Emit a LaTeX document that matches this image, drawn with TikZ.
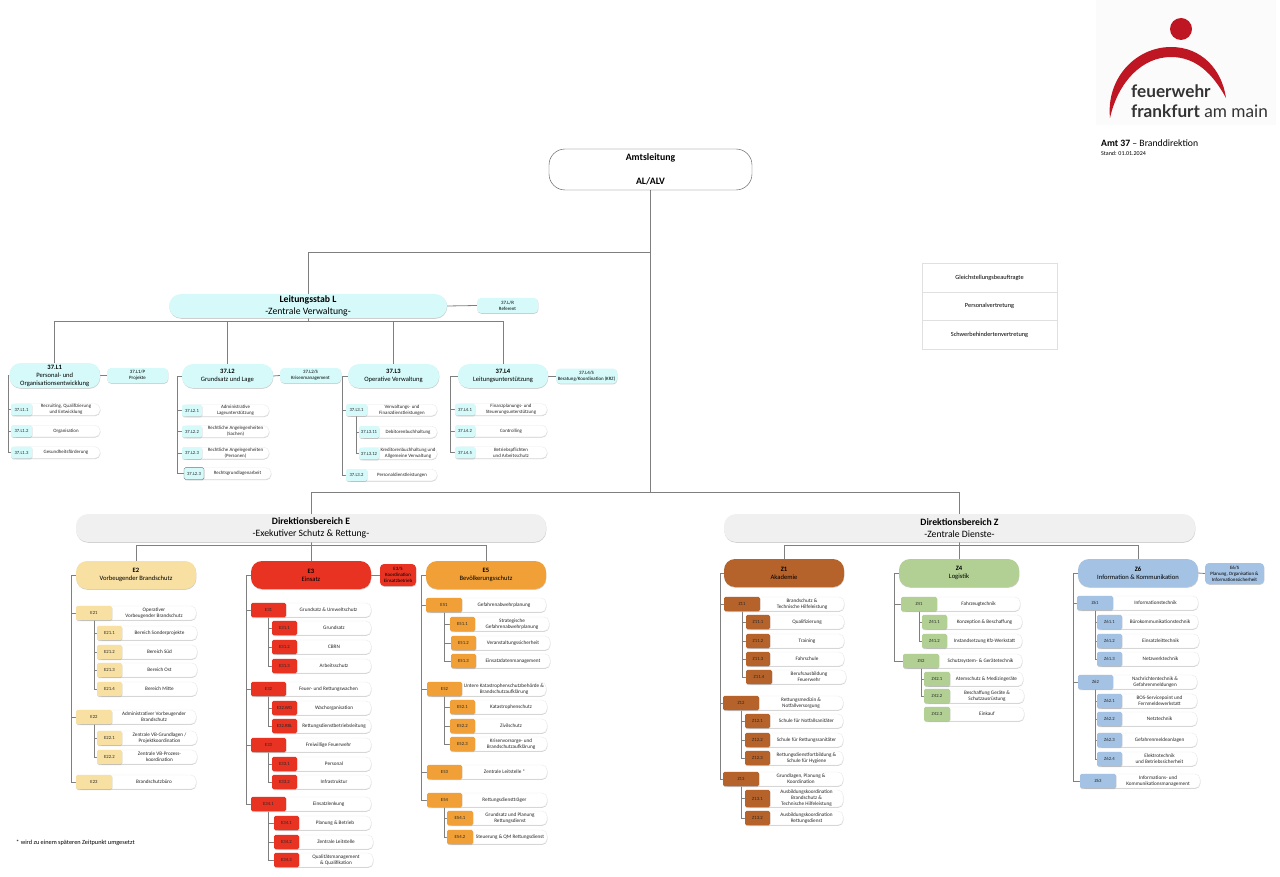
\documentclass[tikz,border=0pt]{standalone}
\usepackage{fontspec}
\setmainfont{Carlito}
\newfontfamily\logofont{Lato}
\usetikzlibrary{shadows,backgrounds}

\definecolor{lineGrey}{HTML}{7F7F7F}
\definecolor{stabCyan}{HTML}{D6FAFA}
\definecolor{dirGrey}{HTML}{F0F0F0}
\definecolor{eYellow}{HTML}{F8E0A2}
\definecolor{eRed}{HTML}{E83323}
\definecolor{eOrange}{HTML}{F0A037}
\definecolor{zBrown}{HTML}{B5622B}
\definecolor{zGreen}{HTML}{B2D094}
\definecolor{zBlue}{HTML}{A4C2E3}
\definecolor{logoRed}{HTML}{BE1622}
\definecolor{logoBack}{HTML}{FBFBFB}

\newcommand{\rowfont}{\fontsize{4.9}{6}\selectfont}

\tikzset{
  softshadow/.style={drop shadow={shadow xshift=0.3pt,shadow yshift=-0.8pt,fill=black!35,opacity=0.55}},
  orgline/.style={draw=lineGrey,line width=0.8pt},
  rowbody/.style={draw=black!8,fill=white,rounded corners=5pt,inner sep=0pt,softshadow},
  rowcode/.style={rounded corners=1.6pt,inner sep=0pt,align=center,text=black!85,font=\fontsize{4.7}{6}\selectfont,softshadow},
  rowtext/.style={inner sep=0pt,align=center,text=black!85,font=\rowfont},
  topbox/.style={rounded corners=12pt,inner sep=0pt,align=center,font=\fontsize{9.7}{12}\selectfont,softshadow},
  headbox/.style={rounded corners=11pt,inner sep=0pt,align=center,font=\fontsize{6.6}{8}\selectfont,softshadow},
  sidebox/.style={rounded corners=4pt,inner sep=0pt,align=center,font=\fontsize{4.9}{6}\selectfont,softshadow},
  repbox/.style={draw=black!12,fill=white,inner sep=0pt,align=center,minimum width=135pt,font=\fontsize{6.3}{8}\selectfont}
}

\newcommand{\orgrow}[9][14]{
  \node[rowbody,minimum width={(#6-#4)*1pt},minimum height={#1*1pt}] (#3-b) at ({(#4+#6)/2},#7) {};
  \node[rowcode,fill=#2,minimum width={(#5-#4)*1pt},minimum height={(#1+0.4)*1pt}] (#3) at ({(#4+#5)/2},#7) {#8};
  \node[rowtext] (#3-t) at ({(#5+#6)/2},#7) {#9};
}
\newcommand{\orgbox}[8]{
  \node[#1,fill=#2,minimum width={(#5-#4)*1pt},minimum height={(#7-#6)*1pt}] (#3) at ({(#4+#5)/2},{(#6+#7)/2}) {#8};
}
\newcommand{\orgtrunk}[3]{
  \foreach \kid in {#3} \draw[orgline] (#1.west) -- ++(-#2,0) |- (\kid.west);
}
\newcommand{\orgsub}[2]{
  \foreach \kid in {#2} \draw[orgline] (#1.south) |- (\kid.west);
}
\newcommand{\orgbus}[2]{
  \draw[orgline] (#1.south) -- ++(0,3.5) coordinate (#1-bus);
  \foreach \kid in {#2} \draw[orgline] (#1-bus) -| (\kid.north);
}

\begin{document}
\begin{tikzpicture}[x=1pt,y=-1pt]
\useasboundingbox (0,0) rectangle (1280,877);

\fill[logoBack] (1096,0) rectangle (1276,125);
\fill[logoRed] (1181,29) circle (11);
\fill[logoRed] (1110,118) .. controls (1106,78) and (1136,47) .. (1171,47) .. controls (1202,47) and (1222,70) .. (1226,98) .. controls (1213,74) and (1196,57) .. (1171,57) .. controls (1142,57) and (1118,82) .. (1110,118);
\node[anchor=base west,inner sep=0pt,font=\logofont\fontsize{17.2}{18}\selectfont\bfseries,text=black!80] (logoa) at (1131,98) {feuerwehr};
\node[anchor=base west,inner sep=0pt,font=\logofont\fontsize{17.2}{18}\selectfont,text=black!80] (logob) at (1131,118) {\textbf{frankfurt} am main};
\node[anchor=base west,inner sep=0pt,font=\fontsize{9.7}{11}\selectfont] (amt) at (1101,147) {\textbf{Amt 37} -- Branddirektion};
\node[anchor=base west,inner sep=0pt,font=\fontsize{6}{8}\selectfont] (stand) at (1101,155.5) {Stand: 01.01.2024};
\node[anchor=west,inner sep=0pt,font=\fontsize{6.3}{7}\selectfont] (note) at (16,843) {* wird zu einem späteren Zeitpunkt umgesetzt};

\node[repbox,minimum height=28.5pt] (gleich) at (989.5,277.5) {Gleichstellungsbeauftragte};
\node[repbox,minimum height=28.5pt] (perso) at (989.5,306) {Personalvertretung};
\node[repbox,minimum height=28.5pt] (schwer) at (989.5,334.5) {Schwerbehindertenvertretung};

\node[draw=black!70,fill=white,rounded corners=16pt,inner sep=0pt,align=center,font=\fontsize{9.8}{12}\selectfont\bfseries,minimum width=203pt,minimum height=41pt] (AL) at (650.5,169.5) {Amtsleitung\\[12pt]AL/ALV};

\orgbox{topbox}{stabCyan}{Lstab}{169}{447}{294}{318}{\textbf{Leitungsstab L}\\-Zentrale Verwaltung-}
\orgbox{sidebox}{stabCyan}{LR}{477}{538}{298}{313}{37.L/R\\Referent}
\orgbox{headbox}{stabCyan}{L1}{9.5}{100}{363}{388}{\textbf{37.L1}\\Personal- und\\Organisationsentwicklung}
\orgbox{sidebox}{stabCyan}{L1P}{107}{168}{368}{383}{37.L1/P\\Projekte}
\orgbox{headbox}{stabCyan}{L2}{182}{273}{364}{388}{\textbf{37.L2}\\Grundsatz und Lage}
\orgbox{sidebox}{stabCyan}{L2S}{280}{341}{368}{383}{37.L2/S\\Krisenmanagement}
\orgbox{headbox}{stabCyan}{L3}{348}{439}{364}{388}{\textbf{37.L3}\\Operative Verwaltung}
\orgbox{headbox}{stabCyan}{L4}{458}{548}{364}{388}{\textbf{37.L4}\\Leitungsunterstützung}
\orgbox{sidebox}{stabCyan}{L4S}{556}{617}{368.5}{383.5}{37.L4/S\\Beratung/Koordination (KRZ)}

\orgrow[11.5]{stabCyan}{L1-1}{11}{32}{100}{409.5}{37.L1.1}{Recruiting, Qualifizierung\\und Entwicklung}
\orgrow[11.5]{stabCyan}{L1-2}{11}{32}{100}{431}{37.L1.2}{Organisation}
\orgrow[11.5]{stabCyan}{L1-3}{11}{32}{100}{452.5}{37.L1.3}{Gesundheitsförderung}

\orgrow[11.5]{stabCyan}{L2-1}{182}{202}{269}{410.5}{37.L2.1}{Administrative\\Lageunterstützung}
\orgrow[11.5]{stabCyan}{L2-2}{182}{202}{269}{431.5}{37.L2.2}{Rechtliche Angelegenheiten\\(Sachen)}
\orgrow[11.5]{stabCyan}{L2-3}{182}{202}{269}{453}{37.L2.3}{Rechtliche Angelegenheiten\\(Personen)}
\orgrow[11.5]{stabCyan,draw=black!55}{L2-4}{184}{204}{271}{473.5}{37.L2.3}{Rechtsgrundlagenarbeit}

\orgrow[11.5]{stabCyan}{L3-1}{346}{367}{437}{410}{37.L3.1}{Verwaltungs- und\\Finanzdienstleistungen}
\orgrow[11.5]{stabCyan}{L3-11}{359}{379}{437}{432}{37.L3.11}{Debitorenbuchhaltung}
\orgrow[11.5]{stabCyan}{L3-12}{359}{379}{437}{453.5}{37.L3.12}{Kreditorenbuchhaltung und\\Allgemeine Verwaltung}
\orgrow[11.5]{stabCyan}{L3-2}{346}{367}{437}{475}{37.L3.2}{Personaldienstleistungen}

\orgrow[11.5]{stabCyan}{L4-1}{455}{475}{547}{409.5}{37.L4.1}{Finanzplanungs- und\\Steuerungsunterstützung}
\orgrow[11.5]{stabCyan}{L4-2}{455}{475}{547}{431}{37.L4.2}{Controlling}
\orgrow[11.5]{stabCyan}{L4-3}{455}{475}{547}{452.5}{37.L4.5}{Betriebspflichten\\und Arbeitsschutz}

\renewcommand{\rowfont}{\fontsize{5.2}{6}\selectfont}

\orgbox{topbox}{dirGrey}{DirE}{76}{546}{514}{542}{\textbf{Direktionsbereich E}\\-Exekutiver Schutz \& Rettung-}
\orgbox{topbox}{dirGrey}{DirZ}{724}{1195}{514}{542}{\textbf{Direktionsbereich Z}\\-Zentrale Dienste-}

\orgbox{headbox}{eYellow}{E2}{76}{196}{561}{589}{\textbf{E2}\\Vorbeugender Brandschutz}
\orgbox{headbox}{eRed}{E3}{251}{371}{561}{589}{\textbf{E3}\\Einsatz}
\orgbox{sidebox}{eRed}{E3S}{380}{416}{564}{586}{E3/S\\Koordination\\Einsatzbetrieb}
\orgbox{headbox}{eOrange}{E5}{426}{546}{561}{589}{\textbf{E5}\\Bevölkerungsschutz}

\orgrow{eYellow}{E21}{76}{112}{196}{613}{E21}{Operativer\\Vorbeugender Brandschutz}
\orgrow{eYellow}{E21-1}{97}{122}{197}{633}{E21.1}{Bereich Sonderprojekte}
\orgrow{eYellow}{E21-2}{97}{122}{197}{652}{E21.2}{Bereich Süd}
\orgrow{eYellow}{E21-3}{97}{122}{197}{670}{E21.3}{Bereich Ost}
\orgrow{eYellow}{E21-4}{97}{122}{197}{689}{E21.4}{Bereich Mitte}
\orgrow{eYellow}{E22}{76}{112}{196}{717}{E22}{Administrativer Vorbeugender\\Brandschutz}
\orgrow{eYellow}{E22-1}{97}{122}{197}{738}{E22.1}{Zentrale VB-Grundlagen /\\Projektkoordination}
\orgrow{eYellow}{E22-2}{97}{122}{197}{757}{E22.2}{Zentrale VB-Prozess-\\koordination}
\orgrow{eYellow}{E23}{76}{112}{196}{782}{E23}{Brandschutzbüro}

\orgrow{eRed}{E31}{251}{286}{371}{610}{E31}{Grundsatz \& Umweltschutz}
\orgrow{eRed}{E31-1}{272}{297}{371}{628}{E31.1}{Grundsatz}
\orgrow{eRed}{E31-2}{272}{297}{371}{647}{E31.2}{CBRN}
\orgrow{eRed}{E31-3}{272}{297}{371}{666}{E31.3}{Arbeitsschutz}
\orgrow{eRed}{E32}{251}{286}{371}{689}{E32}{Feuer- und Rettungswachen}
\orgrow{eRed}{E32-WO}{272}{297}{371}{708}{E32.WO}{Wachorganisation}
\orgrow{eRed}{E32-RBL}{272}{297}{371}{726}{E32.RBL}{Rettungsdienstbetriebsleitung}
\orgrow{eRed}{E33}{251}{286}{371}{745}{E33}{Freiwillige Feuerwehr}
\orgrow{eRed}{E33-1}{272}{297}{371}{764}{E33.1}{Personal}
\orgrow{eRed}{E33-2}{272}{297}{371}{782}{E33.2}{Infrastruktur}
\orgrow{eRed}{E34}{251}{286}{371}{804}{E34.1}{Einsatzlenkung}
\orgrow{eRed}{E34-1}{274}{299}{371}{823}{E34.1}{Planung \& Betrieb}
\orgrow{eRed}{E34-2}{274}{299}{373}{842}{E34.2}{Zentrale Leitstelle}
\orgrow{eRed}{E34-3}{274}{299}{373}{860}{E34.3}{Qualitätsmanagement\\\& Qualifikation}

\orgrow{eOrange}{E51}{426}{462}{546}{605}{E51}{Gefahrenabwehrplanung}
\orgrow{eOrange}{E51-1}{450}{475}{549}{624}{E51.1}{Strategische\\Gefahrenabwehrplanung}
\orgrow{eOrange}{E51-2}{451}{476}{550}{643}{E51.2}{Veranstaltungssicherheit}
\orgrow{eOrange}{E51-3}{451}{476}{550}{661}{E51.3}{Einsatzdatenmanagement}
\orgrow{eOrange}{E52}{427}{462}{546}{689}{E52}{Untere Katastrophenschutzbehörde \&\\Brandschutzaufklärung}
\orgrow{eOrange}{E52-1}{450}{475}{547}{707}{E52.1}{Katastrophenschutz}
\orgrow{eOrange}{E52-2}{450}{475}{547}{726}{E52.2}{Zivilschutz}
\orgrow{eOrange}{E52-3}{450}{475}{547}{744}{E52.3}{Krisenvorsorge- und\\Brandschutzaufklärung}
\orgrow{eOrange}{E53}{427}{462}{547}{772}{E53}{Zentrale Leitstelle *}
\orgrow{eOrange}{E54}{427}{462}{547}{800}{E54}{Rettungsdienstträger}
\orgrow{eOrange}{E54-1}{447}{473}{547}{818}{E54.1}{Grundsatz und Planung\\Rettungsdienst}
\orgrow{eOrange}{E54-2}{447}{473}{547}{837}{E54.2}{Steuerung \& QM Rettungsdienst}

\orgbox{headbox}{zBrown}{Z1}{724}{844}{559}{587}{\textbf{Z1}\\Akademie}
\orgbox{headbox}{zGreen}{Z4}{899}{1019}{559}{587}{\textbf{Z4}\\Logistik}
\orgbox{headbox}{zBlue}{Z6}{1078}{1198}{559}{587}{\textbf{Z6}\\Information \& Kommunikation}
\orgbox{sidebox}{zBlue}{Z6S}{1205}{1264}{563}{584}{E6/S\\Planung, Organisation \&\\Informationssicherheit}

\orgrow{zBrown}{Z11}{724}{760}{844}{604}{Z11}{Brandschutz \&\\Technische Hilfeleistung}
\orgrow{zBrown}{Z11-1}{746}{770}{844}{622}{Z11.1}{Qualifizierung}
\orgrow{zBrown}{Z11-2}{746}{770}{844}{641}{Z11.2}{Training}
\orgrow{zBrown}{Z11-3}{746}{770}{844}{659}{Z11.3}{Fahrschule}
\orgrow{zBrown}{Z11-4}{746}{772}{846}{677}{Z11.4}{Berufsausbildung\\Feuerwehr}
\orgrow{zBrown}{Z12}{723}{759}{843}{703}{Z12}{Rettungsmedizin \&\\Notfallversorgung}
\orgrow{zBrown}{Z12-1}{745}{770}{843}{721}{Z12.1}{Schule für Notfallsanitäter}
\orgrow{zBrown}{Z12-2}{745}{770}{843}{740}{Z12.2}{Schule für Rettungssanitäter}
\orgrow{zBrown}{Z12-3}{745}{770}{843}{758}{Z12.3}{Rettungsdienstfortbildung \&\\Schule für Hygiene}
\orgrow{zBrown}{Z13}{723}{759}{843}{779}{Z13}{Grundlagen, Planung \&\\Koordination}
\orgrow[17]{zBrown}{Z13-1}{745}{770}{843}{798.5}{Z13.1}{Ausbildungskoordination\\Brandschutz \&\\Technische Hilfeleistung}
\orgrow{zBrown}{Z13-2}{745}{770}{843}{818}{Z13.2}{Ausbildungskoordination\\Rettungsdienst}

\orgrow{zGreen}{Z41}{901}{937}{1020}{604}{Z41}{Fahrzeugtechnik}
\orgrow{zGreen}{Z41-1}{922}{947}{1022}{622}{Z41.1}{Konzeption \& Beschaffung}
\orgrow{zGreen}{Z41-2}{922}{947}{1022}{641}{Z41.2}{Instandsetzung Kfz-Werkstatt}
\orgrow{zGreen}{Z42}{903}{939}{1022}{661}{Z42}{Schutzsystem- \& Gerätetechnik}
\orgrow{zGreen}{Z42-1}{924}{950}{1023}{679}{Z42.1}{Atemschutz \& Medizingeräte}
\orgrow{zGreen}{Z42-2}{924}{950}{1024}{696}{Z42.2}{Beschaffung Geräte \&\\Schutzausrüstung}
\orgrow{zGreen}{Z42-3}{924}{950}{1024}{714}{Z42.3}{Einkauf}

\orgrow{zBlue}{Z61}{1077}{1113}{1198}{603}{Z61}{Informationstechnik}
\orgrow{zBlue}{Z61-1}{1097}{1122}{1198}{622}{Z61.1}{Bürokommunikationstechnik}
\orgrow{zBlue}{Z61-2}{1097}{1122}{1199}{641}{Z61.2}{Einsatzleittechnik}
\orgrow{zBlue}{Z61-3}{1097}{1122}{1199}{659}{Z61.3}{Netzwerktechnik}
\orgrow{zBlue}{Z62}{1078}{1113}{1197}{682}{Z62}{Nachrichtentechnik \&\\Gefahrenmeldungen}
\orgrow{zBlue}{Z62-1}{1097}{1122}{1197}{701}{Z62.1}{BOS-Servicepoint und\\Fernmeldewerkstatt}
\orgrow{zBlue}{Z62-2}{1097}{1122}{1197}{719}{Z62.2}{Netztechnik}
\orgrow{zBlue}{Z62-3}{1097}{1122}{1197}{740}{Z62.3}{Gefahrenmeldeanlagen}
\orgrow{zBlue}{Z62-4}{1097}{1122}{1197}{759}{Z62.4}{Elektrotechnik\\und Betriebssicherheit}
\orgrow{zBlue}{Z63}{1080}{1116}{1200}{781}{Z63}{Informations- und\\Kommunikationsmanagement}

\begin{scope}[on background layer]
\coordinate (jL) at (AL.south |- 0,252);
\coordinate (jE) at (AL.south |- 0,492);
\draw[orgline] (AL.south) -- (jE);
\draw[orgline] (jL) -| (Lstab.north);
\draw[orgline] (jE) -| (DirE.north);
\draw[orgline] (jE) -| (DirZ.north);
\orgbus{Lstab}{L1,L2,L3,L4}
\orgbus{DirE}{E2,E3,E5}
\orgbus{DirZ}{Z1,Z4,Z6}
\draw[orgline] (Lstab.east) -- (LR.west);
\draw[orgline] (L1.east) -- (L1P.west);
\draw[orgline] (L2.east) -- (L2S.west);
\draw[orgline] (L4.east) -- (L4S.west);
\draw[orgline] (E3.east) -- (E3S.west);
\draw[orgline] (Z6.east) -- (Z6S.west);
\orgtrunk{L1}{1}{L1-1,L1-2,L1-3}
\orgtrunk{L2}{4}{L2-1,L2-2,L2-3,L2-4}
\orgtrunk{L3}{5}{L3-1,L3-2}
\orgtrunk{L4}{7}{L4-1,L4-2,L4-3}
\orgsub{L3-1}{L3-11,L3-12}
\orgtrunk{E2}{4}{E21,E22,E23}
\orgtrunk{E3}{4}{E31,E32,E33,E34}
\orgtrunk{E5}{4}{E51,E52,E53,E54}
\orgsub{E21}{E21-1,E21-2,E21-3,E21-4}
\orgsub{E22}{E22-1,E22-2}
\orgsub{E31}{E31-1,E31-2,E31-3}
\orgsub{E32}{E32-WO,E32-RBL}
\orgsub{E33}{E33-1,E33-2}
\orgsub{E34}{E34-1,E34-2,E34-3}
\orgsub{E51}{E51-1,E51-2,E51-3}
\orgsub{E52}{E52-1,E52-2,E52-3}
\orgsub{E54}{E54-1,E54-2}
\orgtrunk{Z1}{3}{Z11,Z12,Z13}
\orgtrunk{Z4}{4}{Z41,Z42}
\orgtrunk{Z6}{4}{Z61,Z62,Z63}
\orgsub{Z11}{Z11-1,Z11-2,Z11-3,Z11-4}
\orgsub{Z12}{Z12-1,Z12-2,Z12-3}
\orgsub{Z13}{Z13-1,Z13-2}
\orgsub{Z41}{Z41-1,Z41-2}
\orgsub{Z42}{Z42-1,Z42-2}
\orgsub{Z61}{Z61-1,Z61-2,Z61-3}
\orgsub{Z62}{Z62-1,Z62-2,Z62-3,Z62-4}
\end{scope}
\end{tikzpicture}
\end{document}
